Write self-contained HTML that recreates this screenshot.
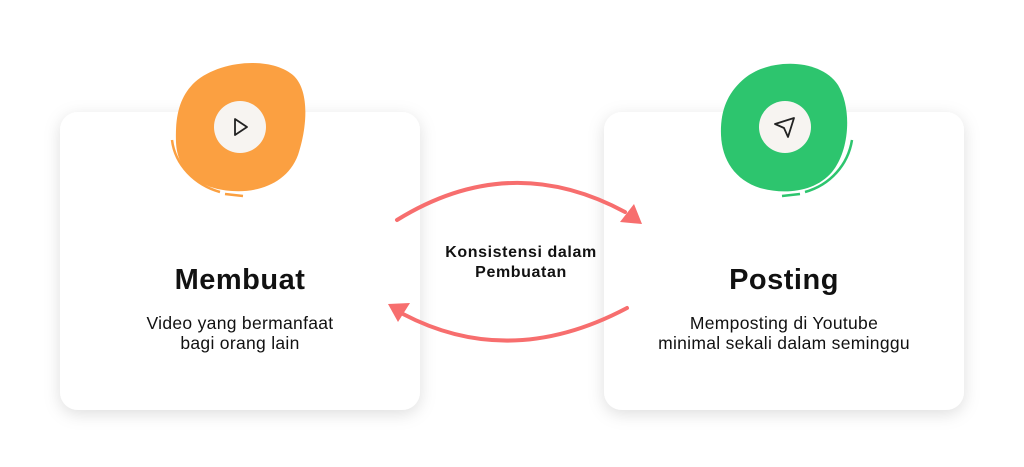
<!DOCTYPE html>
<html><head><meta charset="utf-8"><style>
html,body{margin:0;padding:0;background:#fff;width:1024px;height:467px;overflow:hidden}
svg{display:block}
text{font-family:"Liberation Sans",sans-serif;fill:#111}
</style></head><body>
<svg width="1024" height="467" viewBox="0 0 1024 467">
<defs>
<filter id="sh" x="-20%" y="-20%" width="140%" height="140%">
<feDropShadow dx="0" dy="4" stdDeviation="8" flood-color="#000" flood-opacity="0.13"/>
</filter>
</defs>
<rect x="60" y="112" width="360" height="298" rx="18" fill="#fff" filter="url(#sh)"/>
<rect x="604" y="112" width="360" height="298" rx="18" fill="#fff" filter="url(#sh)"/>

<!-- orange blob -->
<path d="M195 82 C220 60 272 56 294 76 C310 92 307 128 298 155 C288 182 260 193 232 191 C200 189 177 172 176 142 C175 115 180 96 195 82 Z" fill="#FBA041"/>
<path d="M172 140 C175 165 195 185 220 192" stroke="#FBA041" stroke-width="2.5" fill="none"/>
<path d="M225 194 L243 196" stroke="#FBA041" stroke-width="2.5" fill="none"/>
<circle cx="240" cy="127" r="26" fill="#F7F4F1"/>
<path d="M235 119 L247 127 L235 135 Z" fill="none" stroke="#222" stroke-width="1.8" stroke-linejoin="round"/>

<!-- green blob -->
<path d="M745 78 C770 58 820 58 838 85 C852 108 850 150 832 172 C815 192 785 195 760 188 C735 180 722 160 721 135 C720 110 728 92 745 78 Z" fill="#2DC56E"/>
<path d="M852 140 C848 165 830 185 805 192" stroke="#2DC56E" stroke-width="2.5" fill="none"/>
<path d="M800 194 L782 196" stroke="#2DC56E" stroke-width="2.5" fill="none"/>
<circle cx="785" cy="127" r="26" fill="#F7F4F1"/>
<path d="M775 124 L794 118 L788 137 L784 128 Z" fill="none" stroke="#222" stroke-width="1.8" stroke-linejoin="round"/>

<!-- arrows -->
<path d="M397 220 Q510 150 625 212" stroke="#F76E6E" stroke-width="4" fill="none" stroke-linecap="round"/>
<path d="M642 224 L620 222 L634 204 Z" fill="#F76E6E"/>
<path d="M627 308 Q510 370 403 314" stroke="#F76E6E" stroke-width="4" fill="none" stroke-linecap="round"/>
<path d="M388 304 L410 303 L398 322 Z" fill="#F76E6E"/>

<text x="521" y="257" text-anchor="middle" font-size="16" font-weight="bold" letter-spacing="0.6">Konsistensi dalam</text>
<text x="521" y="277" text-anchor="middle" font-size="16" font-weight="bold" letter-spacing="0.6">Pembuatan</text>

<text x="240" y="289" text-anchor="middle" font-size="29" font-weight="bold" letter-spacing="0.5">Membuat</text>
<text x="240" y="329" text-anchor="middle" font-size="17.5" letter-spacing="0.3">Video yang bermanfaat</text>
<text x="240" y="349" text-anchor="middle" font-size="17.5" letter-spacing="0.3">bagi orang lain</text>

<text x="784" y="289" text-anchor="middle" font-size="29" font-weight="bold" letter-spacing="0.5">Posting</text>
<text x="784" y="329" text-anchor="middle" font-size="17.5" letter-spacing="0.3">Memposting di Youtube</text>
<text x="784" y="349" text-anchor="middle" font-size="17.5" letter-spacing="0.3">minimal sekali dalam seminggu</text>
</svg>
</body></html>
